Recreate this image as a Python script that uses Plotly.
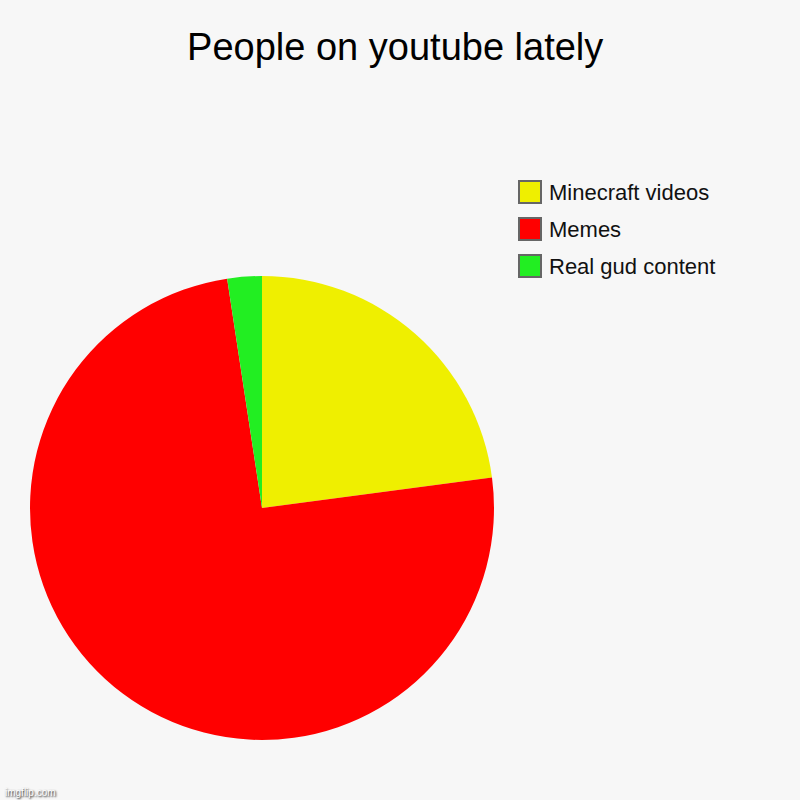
import plotly.graph_objects as go

labels = ['Minecraft videos', 'Memes', 'Real gud content']
values = [22.9, 74.7, 2.4]
colors = ['#EFEF00', '#FF0000', '#22EE22']

fig = go.Figure()
fig.add_trace(go.Pie(
    labels=labels,
    values=values,
    sort=False,
    direction='clockwise',
    rotation=0,
    textinfo='none',
    hoverinfo='label+percent',
    marker=dict(colors=colors, line=dict(width=0)),
    domain=dict(x=[30/800, 494/800], y=[60/800, 524/800]),
    showlegend=False,
))

# legend drawn by hand so the boxes match the size in the picture
for i, (lab, col) in enumerate(zip(labels, colors)):
    yc = 192 + i * 37
    fig.add_shape(type='rect', xref='paper', yref='paper',
                  x0=519/800, x1=541/800, y0=1 - (yc + 11)/800, y1=1 - (yc - 11)/800,
                  fillcolor=col, line=dict(color='#666666', width=2))
    fig.add_annotation(x=547/800, y=1 - yc/800, xref='paper', yref='paper',
                       text=lab, showarrow=False, xanchor='left', yanchor='middle',
                       font=dict(size=22, color='#111111'))

fig.add_annotation(x=3/800, y=1 - 792/800, xref='paper', yref='paper',
                   text='imgflip.com', showarrow=False, xanchor='left', yanchor='middle',
                   font=dict(size=10, color='white', shadow='1px 1px 2px #000000'))

fig.update_layout(
    width=800, height=800,
    title=dict(text='People on youtube lately', x=0.494, xanchor='center', y=1 - 47/800, yanchor='middle',
               font=dict(size=38, color='#000000')),
    font=dict(family='Liberation Sans, Arial, sans-serif'),
    paper_bgcolor='#F7F7F7',
    plot_bgcolor='#F7F7F7',
    margin=dict(l=0, r=0, t=0, b=0),
)

# page has a default body margin, drop it so the chart sits at the top-left corner
fig.write_html('out.html', config={'displayModeBar': False},
               post_script="document.body.style.margin='0';")
